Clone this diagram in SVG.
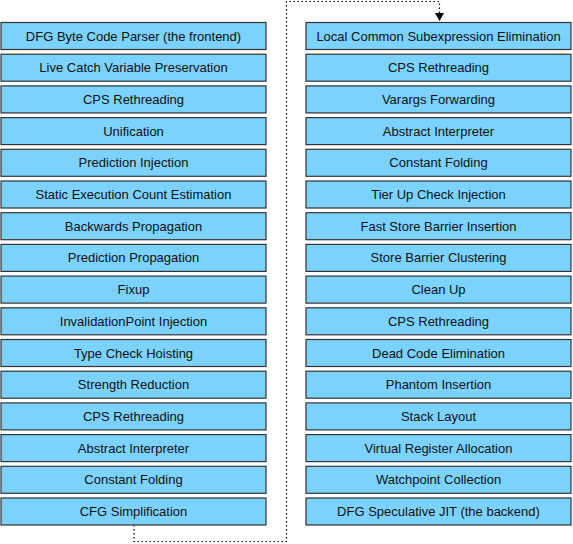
<svg xmlns="http://www.w3.org/2000/svg" width="573" height="544" viewBox="0 0 573 544">
<style>
.b{fill:#7bd3fd;stroke:#333;stroke-width:1.2}
.t{font-family:"Liberation Sans",Arial,Helvetica,sans-serif;font-size:13px;fill:#111;text-anchor:middle;dominant-baseline:central}
.c{fill:none;stroke:#000;stroke-width:1.2;stroke-dasharray:1.5 2.5}
</style>
<defs>
<marker id="ah" markerWidth="8" markerHeight="10" refX="7" refY="5" orient="auto" markerUnits="userSpaceOnUse">
<path d="M0,0.5 L8,5 L0,9.5 Z" fill="#000"/>
</marker>
</defs>
<g id="connectors">
<path class="c" d="M134,525 V541.5 H286.5 V1.5 H439.5 V20" marker-end="url(#ah)"/>
</g>
<g id="left">
<g id="l1"><rect class="b" x="1" y="22.5" width="265" height="27"/><text class="t" x="133.5" y="36">DFG Byte Code Parser (the frontend)</text></g>
<g id="l2"><rect class="b" x="1" y="54.2" width="265" height="27"/><text class="t" x="133.5" y="67.7">Live Catch Variable Preservation</text></g>
<g id="l3"><rect class="b" x="1" y="85.9" width="265" height="27"/><text class="t" x="133.5" y="99.4">CPS Rethreading</text></g>
<g id="l4"><rect class="b" x="1" y="117.6" width="265" height="27"/><text class="t" x="133.5" y="131.1">Unification</text></g>
<g id="l5"><rect class="b" x="1" y="149.3" width="265" height="27"/><text class="t" x="133.5" y="162.8">Prediction Injection</text></g>
<g id="l6"><rect class="b" x="1" y="181" width="265" height="27"/><text class="t" x="133.5" y="194.5">Static Execution Count Estimation</text></g>
<g id="l7"><rect class="b" x="1" y="212.7" width="265" height="27"/><text class="t" x="133.5" y="226.2">Backwards Propagation</text></g>
<g id="l8"><rect class="b" x="1" y="244.4" width="265" height="27"/><text class="t" x="133.5" y="257.9">Prediction Propagation</text></g>
<g id="l9"><rect class="b" x="1" y="276.1" width="265" height="27"/><text class="t" x="133.5" y="289.6">Fixup</text></g>
<g id="l10"><rect class="b" x="1" y="307.8" width="265" height="27"/><text class="t" x="133.5" y="321.3">InvalidationPoint Injection</text></g>
<g id="l11"><rect class="b" x="1" y="339.5" width="265" height="27"/><text class="t" x="133.5" y="353">Type Check Hoisting</text></g>
<g id="l12"><rect class="b" x="1" y="371.2" width="265" height="27"/><text class="t" x="133.5" y="384.7">Strength Reduction</text></g>
<g id="l13"><rect class="b" x="1" y="402.9" width="265" height="27"/><text class="t" x="133.5" y="416.4">CPS Rethreading</text></g>
<g id="l14"><rect class="b" x="1" y="434.6" width="265" height="27"/><text class="t" x="133.5" y="448.1">Abstract Interpreter</text></g>
<g id="l15"><rect class="b" x="1" y="466.3" width="265" height="27"/><text class="t" x="133.5" y="479.8">Constant Folding</text></g>
<g id="l16"><rect class="b" x="1" y="498" width="265" height="27"/><text class="t" x="133.5" y="511.5">CFG Simplification</text></g>
</g>
<g id="right">
<g id="r1"><rect class="b" x="306" y="22.5" width="265" height="27"/><text class="t" x="438.5" y="36">Local Common Subexpression Elimination</text></g>
<g id="r2"><rect class="b" x="306" y="54.2" width="265" height="27"/><text class="t" x="438.5" y="67.7">CPS Rethreading</text></g>
<g id="r3"><rect class="b" x="306" y="85.9" width="265" height="27"/><text class="t" x="438.5" y="99.4">Varargs Forwarding</text></g>
<g id="r4"><rect class="b" x="306" y="117.6" width="265" height="27"/><text class="t" x="438.5" y="131.1">Abstract Interpreter</text></g>
<g id="r5"><rect class="b" x="306" y="149.3" width="265" height="27"/><text class="t" x="438.5" y="162.8">Constant Folding</text></g>
<g id="r6"><rect class="b" x="306" y="181" width="265" height="27"/><text class="t" x="438.5" y="194.5">Tier Up Check Injection</text></g>
<g id="r7"><rect class="b" x="306" y="212.7" width="265" height="27"/><text class="t" x="438.5" y="226.2">Fast Store Barrier Insertion</text></g>
<g id="r8"><rect class="b" x="306" y="244.4" width="265" height="27"/><text class="t" x="438.5" y="257.9">Store Barrier Clustering</text></g>
<g id="r9"><rect class="b" x="306" y="276.1" width="265" height="27"/><text class="t" x="438.5" y="289.6">Clean Up</text></g>
<g id="r10"><rect class="b" x="306" y="307.8" width="265" height="27"/><text class="t" x="438.5" y="321.3">CPS Rethreading</text></g>
<g id="r11"><rect class="b" x="306" y="339.5" width="265" height="27"/><text class="t" x="438.5" y="353">Dead Code Elimination</text></g>
<g id="r12"><rect class="b" x="306" y="371.2" width="265" height="27"/><text class="t" x="438.5" y="384.7">Phantom Insertion</text></g>
<g id="r13"><rect class="b" x="306" y="402.9" width="265" height="27"/><text class="t" x="438.5" y="416.4">Stack Layout</text></g>
<g id="r14"><rect class="b" x="306" y="434.6" width="265" height="27"/><text class="t" x="438.5" y="448.1">Virtual Register Allocation</text></g>
<g id="r15"><rect class="b" x="306" y="466.3" width="265" height="27"/><text class="t" x="438.5" y="479.8">Watchpoint Collection</text></g>
<g id="r16"><rect class="b" x="306" y="498" width="265" height="27"/><text class="t" x="438.5" y="511.5">DFG Speculative JIT (the backend)</text></g>
</g>
</svg>
